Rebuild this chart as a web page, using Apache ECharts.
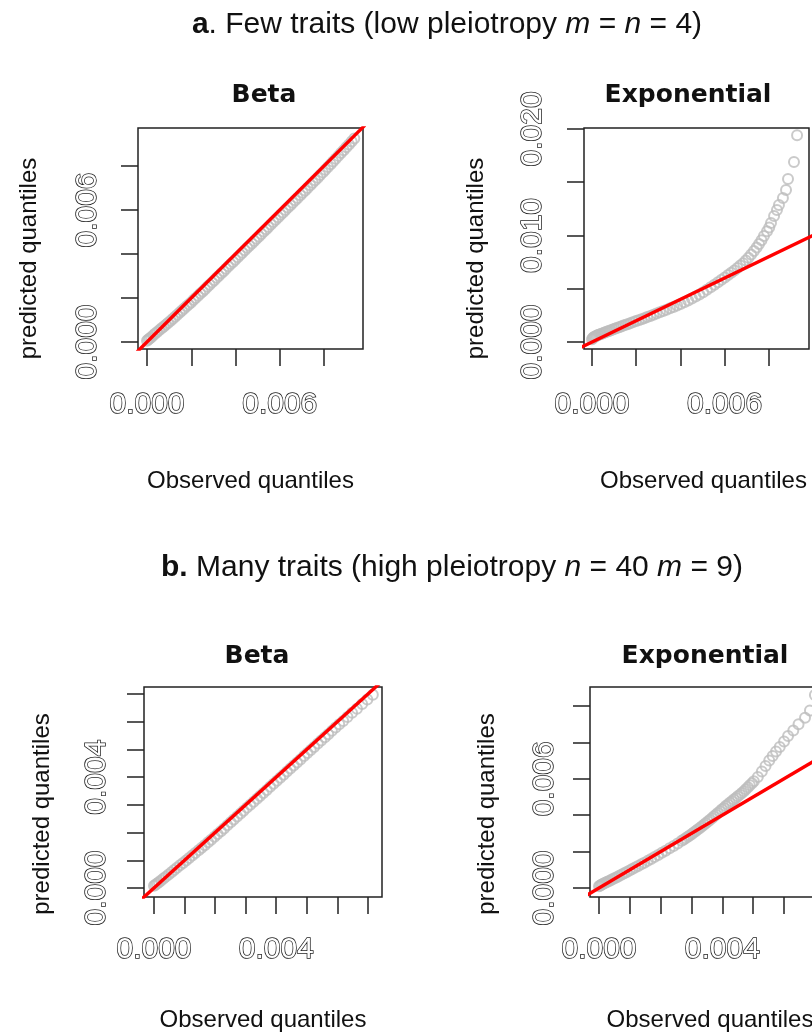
<!DOCTYPE html>
<html>
<head>
<meta charset="utf-8">
<script src="https://cdn.jsdelivr.net/npm/echarts@6/dist/echarts.min.js"></script>
<style>html,body{margin:0;padding:0;background:#fff}#c{width:812px;height:1032px}</style>
</head>
<body>
<div id="c"></div>
<script>
// ---------------- data (quantile pairs) ----------------
// Panel a, Beta
const aBetaObs = [0.00000,0.00006,0.00012,0.00019,0.00027,0.00036,0.00046,0.00056,0.00066,0.00076,0.00086,0.00096,0.00107,0.00117,0.00127,0.00137,0.00148,0.00158,0.00168,0.00179,0.00189,0.00199,0.00210,0.00220,0.00231,0.00241,0.00252,0.00262,0.00273,0.00283,0.00294,0.00304,0.00315,0.00325,0.00336,0.00346,0.00357,0.00368,0.00378,0.00389,0.00399,0.00410,0.00421,0.00431,0.00442,0.00453,0.00463,0.00474,0.00485,0.00495,0.00506,0.00517,0.00528,0.00539,0.00549,0.00560,0.00571,0.00582,0.00593,0.00604,0.00615,0.00626,0.00637,0.00648,0.00659,0.00670,0.00681,0.00693,0.00704,0.00715,0.00726,0.00738,0.00749,0.00760,0.00772,0.00783,0.00795,0.00806,0.00818,0.00830,0.00841,0.00853,0.00865,0.00877,0.00889,0.00901,0.00913,0.00925,0.00937];
const aBetaPred = [0.00006,0.00011,0.00016,0.00022,0.00029,0.00037,0.00046,0.00054,0.00062,0.00070,0.00079,0.00087,0.00097,0.00106,0.00115,0.00124,0.00134,0.00143,0.00152,0.00162,0.00171,0.00180,0.00191,0.00200,0.00210,0.00220,0.00230,0.00240,0.00251,0.00260,0.00271,0.00281,0.00292,0.00301,0.00312,0.00322,0.00333,0.00344,0.00354,0.00364,0.00374,0.00385,0.00396,0.00406,0.00417,0.00428,0.00438,0.00448,0.00459,0.00469,0.00480,0.00491,0.00502,0.00513,0.00523,0.00534,0.00545,0.00556,0.00567,0.00578,0.00589,0.00600,0.00611,0.00622,0.00633,0.00644,0.00655,0.00667,0.00678,0.00689,0.00700,0.00712,0.00724,0.00735,0.00747,0.00759,0.00771,0.00783,0.00795,0.00808,0.00820,0.00833,0.00846,0.00859,0.00872,0.00885,0.00898,0.00911,0.00925];
// Panel a, Exponential
const aExpObs = [0.00000,0.00004,0.00008,0.00012,0.00017,0.00022,0.00028,0.00034,0.00040,0.00047,0.00054,0.00061,0.00069,0.00077,0.00085,0.00094,0.00103,0.00112,0.00122,0.00132,0.00142,0.00153,0.00164,0.00175,0.00187,0.00199,0.00211,0.00224,0.00237,0.00250,0.00264,0.00278,0.00292,0.00307,0.00322,0.00337,0.00353,0.00369,0.00385,0.00401,0.00418,0.00435,0.00452,0.00469,0.00486,0.00503,0.00520,0.00537,0.00554,0.00570,0.00586,0.00601,0.00616,0.00630,0.00644,0.00658,0.00671,0.00684,0.00696,0.00708,0.00720,0.00733,0.00745,0.00756,0.00767,0.00778,0.00792,0.00802,0.00810,0.00824,0.00837,0.00846,0.00864,0.00878,0.00887,0.00914,0.00928];
const aExpPred = [0.00025,0.00038,0.00045,0.00050,0.00055,0.00060,0.00065,0.00070,0.00075,0.00080,0.00086,0.00092,0.00098,0.00104,0.00110,0.00117,0.00124,0.00131,0.00138,0.00146,0.00154,0.00162,0.00170,0.00178,0.00187,0.00196,0.00204,0.00214,0.00224,0.00234,0.00245,0.00256,0.00267,0.00279,0.00291,0.00303,0.00316,0.00329,0.00343,0.00357,0.00373,0.00390,0.00408,0.00427,0.00447,0.00468,0.00490,0.00513,0.00537,0.00562,0.00585,0.00605,0.00628,0.00650,0.00672,0.00695,0.00718,0.00740,0.00765,0.00792,0.00822,0.00855,0.00888,0.00920,0.00955,0.00995,0.01040,0.01075,0.01117,0.01183,0.01240,0.01286,0.01352,0.01427,0.01530,0.01690,0.01940];
// Panel b, Beta
const bBetaObs = [0.00000,0.00005,0.00010,0.00016,0.00023,0.00031,0.00039,0.00048,0.00057,0.00066,0.00075,0.00085,0.00095,0.00105,0.00115,0.00125,0.00135,0.00146,0.00156,0.00166,0.00177,0.00187,0.00198,0.00208,0.00219,0.00229,0.00240,0.00251,0.00261,0.00272,0.00283,0.00293,0.00304,0.00315,0.00326,0.00337,0.00347,0.00358,0.00369,0.00380,0.00391,0.00402,0.00413,0.00424,0.00435,0.00446,0.00457,0.00468,0.00479,0.00491,0.00502,0.00513,0.00524,0.00536,0.00547,0.00559,0.00570,0.00582,0.00594,0.00606,0.00619,0.00633,0.00648,0.00664,0.00681,0.00698,0.00716];
const bBetaPred = [0.00008,0.00012,0.00016,0.00021,0.00027,0.00034,0.00041,0.00049,0.00057,0.00065,0.00073,0.00082,0.00090,0.00099,0.00108,0.00117,0.00126,0.00136,0.00145,0.00154,0.00165,0.00174,0.00185,0.00195,0.00205,0.00215,0.00226,0.00237,0.00247,0.00258,0.00269,0.00279,0.00290,0.00300,0.00311,0.00322,0.00332,0.00343,0.00354,0.00365,0.00376,0.00387,0.00398,0.00409,0.00420,0.00431,0.00442,0.00453,0.00464,0.00476,0.00487,0.00498,0.00509,0.00521,0.00532,0.00544,0.00555,0.00567,0.00579,0.00591,0.00603,0.00617,0.00632,0.00647,0.00664,0.00680,0.00697];
// Panel b, Exponential
const bExpObs = [0.00000,0.00004,0.00008,0.00012,0.00017,0.00022,0.00027,0.00033,0.00039,0.00045,0.00052,0.00059,0.00066,0.00074,0.00082,0.00090,0.00099,0.00108,0.00117,0.00127,0.00137,0.00147,0.00158,0.00169,0.00180,0.00192,0.00204,0.00216,0.00229,0.00242,0.00255,0.00268,0.00275,0.00281,0.00288,0.00294,0.00301,0.00307,0.00314,0.00320,0.00327,0.00333,0.00340,0.00346,0.00353,0.00359,0.00366,0.00372,0.00379,0.00385,0.00392,0.00398,0.00405,0.00411,0.00418,0.00424,0.00431,0.00437,0.00444,0.00450,0.00457,0.00463,0.00470,0.00476,0.00483,0.00489,0.00496,0.00502,0.00515,0.00528,0.00540,0.00552,0.00563,0.00574,0.00586,0.00600,0.00613,0.00630,0.00647,0.00668,0.00684,0.00700];
const bExpPred = [0.00010,0.00014,0.00018,0.00022,0.00026,0.00030,0.00034,0.00039,0.00044,0.00049,0.00055,0.00061,0.00067,0.00074,0.00081,0.00088,0.00096,0.00104,0.00112,0.00121,0.00130,0.00139,0.00149,0.00159,0.00170,0.00181,0.00193,0.00205,0.00218,0.00231,0.00245,0.00259,0.00266,0.00274,0.00281,0.00289,0.00297,0.00305,0.00313,0.00321,0.00329,0.00338,0.00347,0.00356,0.00365,0.00374,0.00383,0.00393,0.00402,0.00412,0.00421,0.00431,0.00440,0.00450,0.00459,0.00468,0.00477,0.00486,0.00495,0.00504,0.00513,0.00522,0.00532,0.00542,0.00553,0.00564,0.00575,0.00587,0.00610,0.00640,0.00670,0.00700,0.00725,0.00750,0.00775,0.00805,0.00835,0.00865,0.00900,0.00935,0.00975,0.01060];
// identity reference line y = x (endpoints, clipped by the plot box)
const identityEnds = [-0.01, 0.03];
// tick marks and labelled ticks
const aBetaXTicks = [0, 0.002, 0.004, 0.006, 0.008], aBetaXLabels = [0, 0.006];
const aBetaYTicks = [0, 0.002, 0.004, 0.006, 0.008], aBetaYLabels = [0, 0.006];
const aExpXTicks = [0, 0.002, 0.004, 0.006, 0.008], aExpXLabels = [0, 0.006];
const aExpYTicks = [0, 0.005, 0.010, 0.015, 0.020], aExpYLabels = [0, 0.010, 0.020];
const bBetaXTicks = [0, 0.001, 0.002, 0.003, 0.004, 0.005, 0.006, 0.007], bBetaXLabels = [0, 0.004];
const bBetaYTicks = [0, 0.001, 0.002, 0.003, 0.004, 0.005, 0.006, 0.007], bBetaYLabels = [0, 0.004];
const bExpXTicks = [0, 0.001, 0.002, 0.003, 0.004, 0.005, 0.006, 0.007], bExpXLabels = [0, 0.004];
const bExpYTicks = [0, 0.002, 0.004, 0.006, 0.008, 0.010], bExpYLabels = [0, 0.006];
// texts
const mainTitles = ['{b|a}. Few traits (low pleiotropy {i|m} = {i|n} = 4)', '{b|b.} Many traits (high pleiotropy {i|n} = 40 {i|m} = 9)'];
const panelTitles = ['Beta', 'Exponential', 'Beta', 'Exponential'];
const xName = 'Observed quantiles', yName = 'predicted quantiles';

// ---------------- layout ----------------
const SANS = '"Liberation Sans", Arial, Helvetica, sans-serif';
const panels = [
  {obs: aBetaObs, pred: aBetaPred, box: {left: 138, top: 128, width: 225, height: 221},
   xr: [-0.000407, 0.009763], yr: [-0.000318, 0.009727],
   xt: aBetaXTicks, xl: aBetaXLabels, yt: aBetaYTicks, yl: aBetaYLabels,
   xLabM: 56, yLabM: 50, xNameGap: 132, yNameGap: 109, xNamePad: [0,0,0,0], yNamePad: [0,40,0,0],
   title: {x: 259, y: 78}},
  {obs: aExpObs, pred: aExpPred, box: {left: 584, top: 128, width: 225, height: 221},
   xr: [-0.000362, 0.00982], yr: [-0.000657, 0.02009],
   xt: aExpXTicks, xl: aExpXLabels, yt: aExpYTicks, yl: aExpYLabels,
   xLabM: 56, yLabM: 51, xNameGap: 132, yNameGap: 108, xNamePad: [0,0,0,14], yNamePad: [0,40,0,0],
   title: {x: 683, y: 78}},
  {obs: bBetaObs, pred: bBetaPred, box: {left: 144, top: 687, width: 238, height: 210},
   xr: [-0.000327, 0.00746], yr: [-0.000325, 0.007253],
   xt: bBetaXTicks, xl: bBetaXLabels, yt: bBetaYTicks, yl: bBetaYLabels,
   xLabM: 53, yLabM: 47, xNameGap: 123, yNameGap: 102, xNamePad: [0,0,0,0], yNamePad: [0,44,0,0],
   title: {x: 252, y: 639}},
  {obs: bExpObs, pred: bExpPred, box: {left: 590, top: 687, width: 240, height: 210},
   xr: [-0.000292, 0.00749], yr: [-0.000495, 0.011044],
   xt: bExpXTicks, xl: bExpXLabels, yt: bExpYTicks, yl: bExpYLabels,
   xNamePad: [0,0,0,0], xLabM: 53, yLabM: 45, xNameGap: 123, yNameGap: 103, yNamePad: [0,44,0,0],
   title: {x: 700, y: 639}}
];

const INK = '#222';
const grid = [], xAxis = [], yAxis = [], series = [];
const mainStyle = {fontFamily: SANS, fontSize: 30, fontWeight: 'normal', color: '#111',
  rich: {b: {fontFamily: SANS, fontSize: 30, fontWeight: 'bold', color: '#111'},
         i: {fontFamily: SANS, fontSize: 30, fontStyle: 'italic', color: '#111'}}};
const title = [
  {text: mainTitles[0], left: 442, top: 5, textAlign: 'center', textStyle: mainStyle},
  {text: mainTitles[1], left: 447, top: 548, textAlign: 'center', textStyle: mainStyle}
];

const fmt = v => Number(v).toFixed(3);
const tickLabelStyle = {fontFamily: SANS, fontSize: 30, color: '#fff', textBorderColor: '#222', textBorderWidth: 1.5};

panels.forEach((p, i) => {
  grid.push(Object.assign({show: true, borderColor: INK, borderWidth: 1.5, backgroundColor: '#fff', outerBoundsMode: 'none', containLabel: false}, p.box));
  title.push({text: panelTitles[i], left: p.title.x, top: p.title.y, textAlign: 'center',
    textStyle: {fontFamily: '"DejaVu Sans", sans-serif', fontSize: 25, fontWeight: 'bold', color: '#111'}});
  xAxis.push({type: 'value', gridIndex: i, min: p.xr[0], max: p.xr[1], position: 'bottom',
    axisLine: {show: false, onZero: false}, splitLine: {show: false},
    axisTick: {show: true, inside: false, length: 17, customValues: p.xt, lineStyle: {color: INK, width: 1.5}},
    axisLabel: Object.assign({show: true, customValues: p.xl, formatter: fmt, margin: p.xLabM, verticalAlign: 'middle', align: 'center'}, tickLabelStyle),
    name: xName, nameLocation: 'middle', nameGap: p.xNameGap,
    nameTextStyle: {fontFamily: SANS, fontSize: 24, color: '#111', verticalAlign: 'middle', padding: p.xNamePad}});
  yAxis.push({type: 'value', gridIndex: i, min: p.yr[0], max: p.yr[1], position: 'left',
    axisLine: {show: false, onZero: false}, splitLine: {show: false},
    axisTick: {show: true, inside: false, length: 17, customValues: p.yt, lineStyle: {color: INK, width: 1.5}},
    axisLabel: Object.assign({show: true, customValues: p.yl, formatter: fmt, rotate: 90, margin: p.yLabM, verticalAlign: 'middle', align: 'center'}, tickLabelStyle),
    name: yName, nameLocation: 'middle', nameGap: p.yNameGap,
    nameTextStyle: {fontFamily: SANS, fontSize: 24, color: '#111', verticalAlign: 'middle', align: 'center', padding: p.yNamePad}});
  series.push({type: 'scatter', xAxisIndex: i, yAxisIndex: i, clip: true,
    data: p.obs.map((o, k) => [o, p.pred[k]]),
    symbol: 'circle', symbolSize: 10,
    itemStyle: {color: 'rgba(255,255,255,0)', borderColor: '#bdbdbd', borderWidth: 2},
    emphasis: {disabled: true}, z: 2});
  series.push({type: 'line', xAxisIndex: i, yAxisIndex: i, clip: true,
    data: identityEnds.map(v => [v, v]), symbol: 'none',
    lineStyle: {color: '#ff0000', width: 3.4}, emphasis: {disabled: true}, z: 3});
});

const chart = echarts.init(document.getElementById('c'), null, {renderer: 'canvas'});
chart.setOption({animation: false, backgroundColor: '#fff', title, grid, xAxis, yAxis, series, tooltip: {show: false}});
</script>
</body>
</html>
